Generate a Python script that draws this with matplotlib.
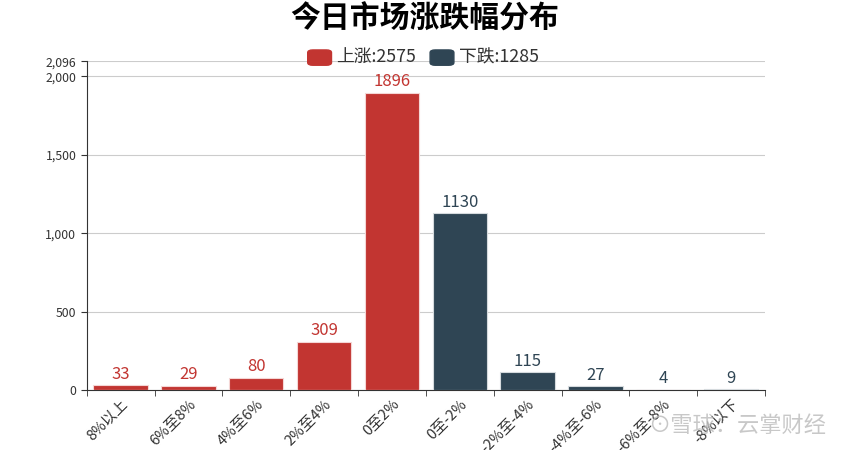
import matplotlib
matplotlib.use("Agg")
import matplotlib.pyplot as plt
from matplotlib.patches import FancyBboxPatch
import numpy as np

plt.rcParams['font.family'] = ['Noto Sans CJK SC', 'DejaVu Sans']

categories = ["8%以上", "6%至8%", "4%至6%", "2%至4%", "0至2%",
              "0至-2%", "-2%至-4%", "-4%至-6%", "-6%至-8%", "-8%以下"]
up_counts = [33, 29, 80, 309, 1896, 0, 0, 0, 0, 0]
down_counts = [0, 0, 0, 0, 0, 1130, 115, 27, 4, 9]
up_total = 2575
down_total = 1285
y_ticks = [0, 500, 1000, 1500, 2000, 2096]

red = "#c23531"
dark = "#2f4554"

fig = plt.figure(figsize=(8.5, 4.5), dpi=100)
ax = fig.add_axes([0.102, 0.133, 0.798, 0.731])

x = np.arange(len(categories))
bars_up = ax.bar(x, up_counts, width=0.8, color=red, edgecolor="#f4d6d5",
                 linewidth=0.8, zorder=3)
bars_down = ax.bar(x, down_counts, width=0.8, color=dark, edgecolor="#d5dadd",
                   linewidth=0.8, zorder=3)

for i, v in enumerate(up_counts):
    if v > 0:
        ax.text(i, v + 14, str(v), ha="center", va="bottom", color=red, fontsize=12)
for i, v in enumerate(down_counts):
    if v > 0:
        ax.text(i, v + 14, str(v), ha="center", va="bottom", color=dark, fontsize=12)

ax.set_xlim(-0.5, len(categories) - 0.5)
ax.set_ylim(0, 2096)
ax.set_yticks(y_ticks)
ax.set_yticklabels([f"{t:,}" for t in y_ticks], fontsize=8.8, color="#333333")
ax.yaxis.grid(True, color="#cccccc", linewidth=0.8, zorder=0)
ax.tick_params(axis="y", length=4, color="#333333")

ax.set_xticks(x)
ax.set_xticklabels(categories, rotation=45, ha="right", rotation_mode="anchor",
                   fontsize=10.6, color="#333333")
ax.tick_params(axis="x", which="major", length=0, pad=5)
ax.set_xticks(np.arange(-0.5, len(categories)), minor=True)
ax.tick_params(axis="x", which="minor", length=4, color="#333333")

for s in ["top", "right"]:
    ax.spines[s].set_visible(False)
ax.spines["left"].set_color("#333333")
ax.spines["bottom"].set_color("#333333")

fig.text(0.5, 0.958, "今日市场涨跌幅分布", ha="center", va="center",
         fontsize=21.5, fontweight="bold", color="#000000")

# legend
leg_y = 0.872
items = [(0.362, red, f"上涨:{up_total}"), (0.506, dark, f"下跌:{down_total}")]
for lx, col, label in items:
    box = FancyBboxPatch((lx, leg_y - 0.017), 0.028, 0.034,
                         boxstyle="round,pad=0,rounding_size=0.006",
                         transform=fig.transFigure, color=col, zorder=5)
    fig.add_artist(box)
    fig.text(lx + 0.034, leg_y, label, ha="left", va="center",
             fontsize=12.8, color="#333333")

fig.text(0.972, 0.055, "⊙雪球：云掌财经", ha="right", va="center",
         fontsize=16, color="#bbbbbb", alpha=0.8)

fig.savefig("out.png", dpi=100)
